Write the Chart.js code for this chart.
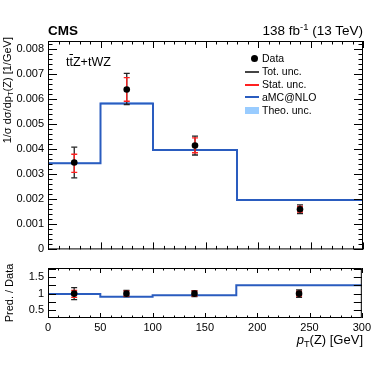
<!DOCTYPE html>
<html>
<head>
<meta charset="utf-8">
<script src="https://cdn.jsdelivr.net/npm/chart.js@4.4.1/dist/chart.umd.min.js"></script>
<style>
  body { margin: 0; background: #fff; font-family: "Liberation Sans", Arial, sans-serif; }
  #wrap { position: relative; width: 374px; height: 367px; overflow: hidden; }
  .abs { position: absolute; white-space: nowrap; color: #000; line-height: 1; }
  .box { position: absolute; }
  sub { font-size: 70%; vertical-align: -0.3em; line-height: 0; }
  sup { font-size: 70%; vertical-align: 0.55em; line-height: 0; }
  .rot { transform-origin: 0 0; transform: rotate(-90deg); }
  .leg { font-size: 10.5px; }
</style>
</head>
<body>
<div id="wrap">
  <div class="box" style="left:0;top:0;width:374px;height:260px"><canvas id="top"></canvas></div>
  <div class="box" style="left:0;top:255px;width:374px;height:112px"><canvas id="ratio"></canvas></div>

  <div class="abs" style="left:48px;top:24px;font-size:13.5px;font-weight:bold">CMS</div>
  <div class="abs" style="right:11px;top:24px;font-size:13.5px">138 fb<sup>-1</sup> (13 TeV)</div>
  <div class="abs" style="left:66px;top:56px;font-size:12.5px">t<span style="text-decoration:overline">t</span>Z+tWZ</div>

  <div class="abs rot" style="left:2px;top:237px;width:200px;text-align:right;font-size:11px">1/σ dσ/dp<sub>T</sub>(Z) [1/GeV]</div>
  <div class="abs rot" style="left:4px;top:343px;width:100px;text-align:center;font-size:11px">Pred. / Data</div>
  <div class="abs" style="right:11px;top:333px;font-size:13px"><i>p</i><sub>T</sub>(Z) [GeV]</div>

  <!-- legend -->
  <div class="box" style="left:251px;top:55px;width:7px;height:7px;border-radius:50%;background:#000"></div>
  <div class="abs leg" style="left:262px;top:53px">Data</div>
  <div class="box" style="left:245px;top:70.5px;width:14px;height:2px;background:#444"></div>
  <div class="abs leg" style="left:262px;top:66px">Tot. unc.</div>
  <div class="box" style="left:245px;top:83.5px;width:14px;height:2px;background:#ff2020"></div>
  <div class="abs leg" style="left:262px;top:79px">Stat. unc.</div>
  <div class="box" style="left:245px;top:96px;width:14px;height:2px;background:#2a5cbf"></div>
  <div class="abs leg" style="left:262px;top:91.5px">aMC@NLO</div>
  <div class="box" style="left:245px;top:106.5px;width:14px;height:7.5px;background:#99ccff"></div>
  <div class="abs leg" style="left:262px;top:104.5px">Theo. unc.</div>
</div>

<script>
// bins in pT(Z) [GeV]
const binEdges = [0, 50, 100, 180, 300];
const binCenters = [25, 75, 140, 240];

// upper panel: normalised cross section [1/GeV]
const dataVals = [0.00346, 0.00637, 0.00414, 0.00160];
const totUp    = [0.00061, 0.00064, 0.00037, 0.00017];
const totDn    = [0.00061, 0.00060, 0.00038, 0.00017];
const statUp   = [0.00033, 0.00047, 0.00030, 0.00011];
const statDn   = [0.00039, 0.00047, 0.00029, 0.00011];
const predVals = [0.00343, 0.00581, 0.00396, 0.00197];
const theoUp   = [0.00003, 0.00004, 0.00003, 0.00002];
const theoDn   = [0.00003, 0.00004, 0.00003, 0.00002];

// lower panel: pred / data
const ratioData   = [1, 1, 1, 1];
const ratioTotUp  = [0.18, 0.10, 0.09, 0.11];
const ratioTotDn  = [0.18, 0.09, 0.09, 0.11];
const ratioStatUp = [0.10, 0.074, 0.072, 0.07];
const ratioStatDn = [0.11, 0.074, 0.072, 0.07];
const ratioPred   = [0.99, 0.91, 0.95, 1.25];
const ratioTheo   = [0.01, 0.01, 0.01, 0.012];

// axis ticks
const xTicks = [0, 50, 100, 150, 200, 250, 300];
const yTicksTop = [0, 0.001, 0.002, 0.003, 0.004, 0.005, 0.006, 0.007, 0.008];
const yTicksRatio = [0.5, 1, 1.5];

const BLUE = '#2a5cbf';
const BAND = '#99ccff';
const RED = '#ff2020';
const TOT = '#222';

function steps(vals, shift, sign) {
  return binEdges.map((e, i) => {
    const k = Math.min(i, vals.length - 1);
    return { x: e, y: vals[k] + (shift ? sign * shift[k] : 0) };
  });
}

function errPoints(vals, up, dn) {
  const pts = [];
  binCenters.forEach((c, i) => {
    pts.push({ x: c, y: vals[i] - dn[i] });
    pts.push({ x: c, y: vals[i] + up[i] });
    pts.push({ x: c, y: null });
  });
  return pts;
}

function datasets(vals, tU, tD, sU, sD, pred, thU, thD) {
  return [
    { data: steps(pred, thD, -1), stepped: true, borderWidth: 0, pointRadius: 0, fill: false, order: 5 },
    { data: steps(pred, thU, 1), stepped: true, borderWidth: 0, pointRadius: 0, fill: '-1', backgroundColor: BAND, order: 4 },
    { data: steps(pred), stepped: true, borderColor: BLUE, borderWidth: 2, pointRadius: 0, fill: false, order: 3 },
    { data: errPoints(vals, tU, tD), borderColor: TOT, borderWidth: 1.3, pointStyle: 'line', pointRadius: 3,
      pointBorderColor: TOT, pointBorderWidth: 1.3, spanGaps: false, fill: false, order: 2 },
    { data: errPoints(vals, sU, sD), borderColor: RED, borderWidth: 1.3, pointStyle: 'line', pointRadius: 3,
      pointBorderColor: RED, pointBorderWidth: 1.3, spanGaps: false, fill: false, order: 1 },
    { data: binCenters.map((c, i) => ({ x: c, y: vals[i] })), showLine: false, pointRadius: 3.3,
      pointBackgroundColor: '#000', pointBorderColor: '#000', pointBorderWidth: 0, order: 0 }
  ];
}

// frame with ROOT-style inward ticks on all four sides
const frameTicks = {
  id: 'frameTicks',
  afterDraw(chart, args, o) {
    const { ctx, chartArea: a, scales } = chart;
    ctx.save();
    ctx.strokeStyle = '#000';
    ctx.lineWidth = 1;
    ctx.strokeRect(a.left + 0.5, a.top + 0.5, a.right - a.left - 1, a.bottom - a.top - 1);
    const isMajor = (v, m) => Math.abs(v / m - Math.round(v / m)) < 1e-6;
    ctx.beginPath();
    const xs = scales.x;
    for (let v = xs.min; v <= xs.max + 1e-9; v += o.x.minor) {
      const px = Math.round(xs.getPixelForValue(v)) + 0.5;
      const len = isMajor(v, o.x.major) ? o.x.majLen : o.x.minLen;
      ctx.moveTo(px, a.bottom); ctx.lineTo(px, a.bottom - len);
      ctx.moveTo(px, a.top); ctx.lineTo(px, a.top + len);
    }
    const ys = scales.y;
    const start = Math.ceil(ys.min / o.y.minor - 1e-6) * o.y.minor;
    for (let i = 0; start + i * o.y.minor <= ys.max + 1e-12; i++) {
      const v = start + i * o.y.minor;
      const py = Math.round(ys.getPixelForValue(v)) + 0.5;
      const len = isMajor(v, o.y.major) ? o.y.majLen : o.y.minLen;
      ctx.moveTo(a.left, py); ctx.lineTo(a.left + len, py);
      ctx.moveTo(a.right, py); ctx.lineTo(a.right - len, py);
    }
    ctx.stroke();
    ctx.restore();
  }
};

const tickFont = { family: '"Liberation Sans", Arial, sans-serif', size: 11 };

new Chart(document.getElementById('top'), {
  type: 'line',
  data: { datasets: datasets(dataVals, totUp, totDn, statUp, statDn, predVals, theoUp, theoDn) },
  options: {
    responsive: true, maintainAspectRatio: false, animation: false,
    layout: { padding: { left: 0, right: 11, top: 41, bottom: 7 } },
    plugins: {
      legend: { display: false }, tooltip: { enabled: false },
      frameTicks: { x: { major: 50, minor: 10, majLen: 7, minLen: 3.5 },
                    y: { major: 0.001, minor: 0.0002, majLen: 9, minLen: 4.5 } }
    },
    scales: {
      x: { type: 'linear', min: 0, max: 300, display: false },
      y: {
        min: 0, max: 0.0083,
        grid: { display: false, drawTicks: false }, border: { display: false },
        afterBuildTicks: s => { s.ticks = yTicksTop.map(v => ({ value: v })); },
        afterFit: s => { s.width = 48; },
        ticks: { padding: 4, color: '#000', font: tickFont,
                 callback: v => v === 0 ? '0' : v.toFixed(3) }
      }
    }
  },
  plugins: [frameTicks]
});

new Chart(document.getElementById('ratio'), {
  type: 'line',
  data: { datasets: datasets(ratioData, ratioTotUp, ratioTotDn, ratioStatUp, ratioStatDn, ratioPred, ratioTheo, ratioTheo) },
  options: {
    responsive: true, maintainAspectRatio: false, animation: false,
    layout: { padding: { left: 0, right: 11, top: 13, bottom: 0 } },
    plugins: {
      legend: { display: false }, tooltip: { enabled: false },
      frameTicks: { x: { major: 50, minor: 10, majLen: 5, minLen: 2.5 },
                    y: { major: 0.5, minor: 0.25, majLen: 8, minLen: 8 } }
    },
    scales: {
      x: {
        type: 'linear', min: 0, max: 300,
        grid: { display: false, drawTicks: false }, border: { display: false },
        afterBuildTicks: s => { s.ticks = xTicks.map(v => ({ value: v })); },
        afterFit: s => { s.height = 49; },
        ticks: { padding: 3, color: '#000', font: tickFont, maxRotation: 0, autoSkip: false }
      },
      y: {
        min: 0.27, max: 1.77,
        grid: { display: false, drawTicks: false }, border: { display: false },
        afterBuildTicks: s => { s.ticks = yTicksRatio.map(v => ({ value: v })); },
        afterFit: s => { s.width = 48; },
        ticks: { padding: 4, color: '#000', font: tickFont, callback: v => String(v) }
      }
    }
  },
  plugins: [frameTicks]
});
</script>
</body>
</html>
